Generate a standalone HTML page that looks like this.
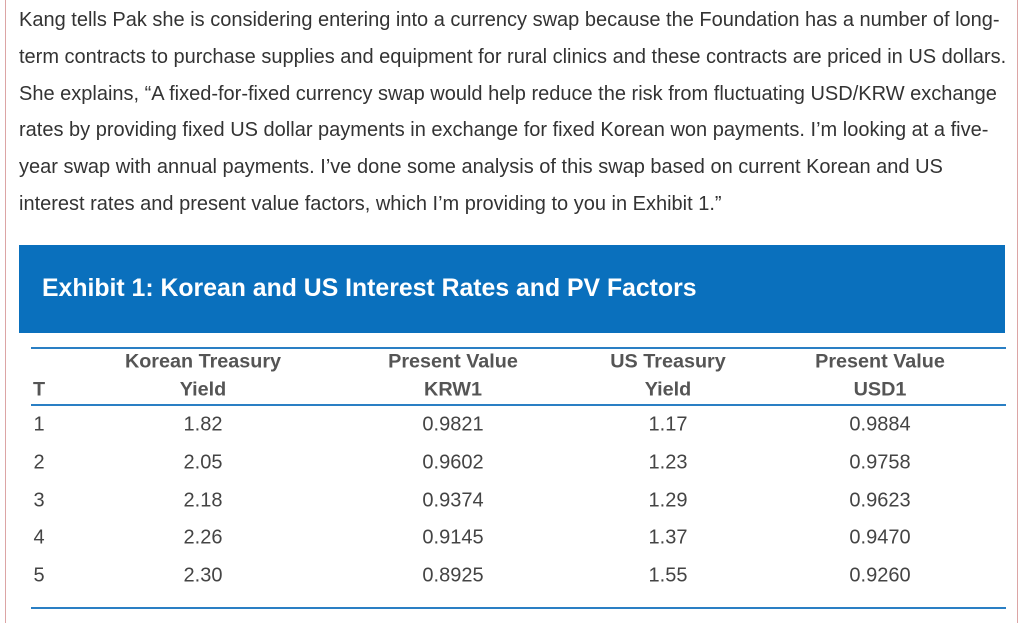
<!DOCTYPE html>
<html><head><meta charset="utf-8"><style>
body{margin:0;width:1024px;height:623px;background:#fff;font-family:"Liberation Sans",Arial,sans-serif;position:relative;overflow:hidden}
.bl{position:absolute;top:0;bottom:0;width:1px;background:#dca5a5}
.p{position:absolute;left:19px;font-size:20px;color:#333;white-space:nowrap;line-height:20px}
.hdr{position:absolute;left:19px;top:245px;width:986px;height:88px;background:#0a70bd}
.hdr span{position:absolute;left:23px;top:30px;color:#fff;font-weight:bold;font-size:24.8px}
.ln{position:absolute;left:31px;width:975px;height:2px;background:#2a7fc4}
.c{position:absolute;font-size:20px;color:#444;transform:translate(-50%,-50%);white-space:nowrap}
.h{font-weight:bold;color:#555;font-size:19.8px}
</style></head><body>
<div class="bl" style="left:5px"></div>
<div class="bl" style="left:1017px"></div>
<div>
<div class="p" style="top:10px">Kang tells Pak she is considering entering into a currency swap because the Foundation has a number of long-</div>
<div class="p" style="top:47px">term contracts to purchase supplies and equipment for rural clinics and these contracts are priced in US dollars.</div>
<div class="p" style="top:84px">She explains, “A fixed-for-fixed currency swap would help reduce the risk from fluctuating USD/KRW exchange</div>
<div class="p" style="top:120px">rates by providing fixed US dollar payments in exchange for fixed Korean won payments. I’m looking at a five-</div>
<div class="p" style="top:157px">year swap with annual payments. I’ve done some analysis of this swap based on current Korean and US</div>
<div class="p" style="top:194px">interest rates and present value factors, which I’m providing to you in Exhibit 1.”</div>
</div>
<div class="hdr"><span>Exhibit 1: Korean and US Interest Rates and PV Factors</span></div>
<div class="ln" style="top:347px"></div>
<div class="ln" style="top:404px"></div>
<div class="ln" style="top:607px"></div>
<div id="tbl"></div>
<script>
const tenors=["1","2","3","4","5"];
const krYield=["1.82","2.05","2.18","2.26","2.30"];
const pvKrw=["0.9821","0.9602","0.9374","0.9145","0.8925"];
const usYield=["1.17","1.23","1.29","1.37","1.55"];
const pvUsd=["0.9884","0.9758","0.9623","0.9470","0.9260"];
const tbl=document.getElementById('tbl');
const cx=[39,203,453,668,880];
const rowY=[425,463,501,538,576];
function add(t,x,y,cls,name){const d=document.createElement('div');d.className='c '+cls;d.textContent=t;d.style.left=x+'px';d.style.top=y+'px';


tbl.appendChild(d);}
add('T',39,390,'h','header-t');
add('Korean Treasury',203,362,'h','header-kr-1');add('Yield',203,390,'h','header-kr-2');
add('Present Value',453,362,'h','header-pvkrw-1');add('KRW1',453,390,'h','header-pvkrw-2');
add('US Treasury',668,362,'h','header-us-1');add('Yield',668,390,'h','header-us-2');
add('Present Value',880,362,'h','header-pvusd-1');add('USD1',880,390,'h','header-pvusd-2');
const cols=[tenors,krYield,pvKrw,usYield,pvUsd];
for(let r=0;r<tenors.length;r++)for(let c=0;c<5;c++)add(cols[c][r],cx[c],rowY[r],'','cell-r'+(r+1)+'-c'+(c+1));
</script>
</body></html>
